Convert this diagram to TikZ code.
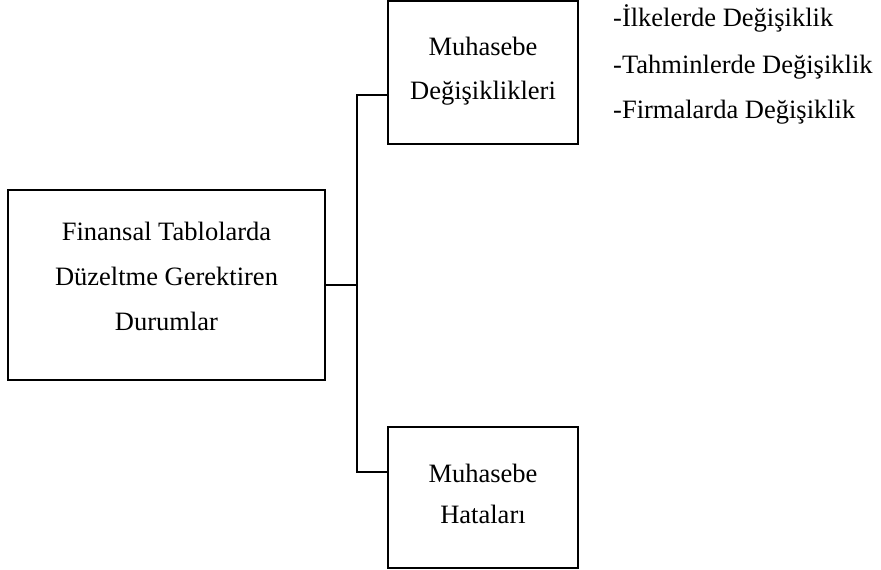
\documentclass[tikz,border=0pt]{standalone}
\usepackage{fontspec}
\setmainfont{Liberation Serif}
\begin{document}
\begin{tikzpicture}[x=1pt,y=1pt,
  box/.style={draw, line width=2.8pt, rectangle, inner sep=0pt, align=center,
    font=\fontsize{26.5}{45}\selectfont},
  listtext/.style={anchor=base west, inner sep=0pt, font=\fontsize{26.5}{45}\selectfont},
  conn/.style={line width=2.8pt}]
\useasboundingbox (0,0) rectangle (881,-570);
\node[box, minimum width=317pt, minimum height=190pt] (left) at (166.5,-285)
  {Finansal Tablolarda\\Düzeltme Gerektiren\\Durumlar\rule[-18pt]{0pt}{18pt}};
\node[box, minimum width=190pt, minimum height=143pt, font=\fontsize{26.5}{44}\selectfont] (top) at (483,-72.5)
  {Muhasebe\\Değişiklikleri\rule[-8pt]{0pt}{8pt}};
\node[box, minimum width=190pt, minimum height=141pt, font=\fontsize{26.5}{41}\selectfont] (bot) at (483,-497.5)
  {Muhasebe\\Hataları\rule[-8pt]{0pt}{8pt}};
\node[listtext] (l1) at (613,-27) {-İlkelerde Değişiklik};
\node[listtext] (l2) at (613,-73) {-Tahminlerde Değişiklik};
\node[listtext] (l3) at (613,-118) {-Firmalarda Değişiklik};
\coordinate (j) at (357,-285);
\coordinate (ta) at (357,-95);
\coordinate (bb) at (357,-472);
\draw[conn] (left.east) -- (j);
\draw[conn] (ta -| top.west) -- (ta) -- (bb) -- (bb -| bot.west);
\end{tikzpicture}
\end{document}
